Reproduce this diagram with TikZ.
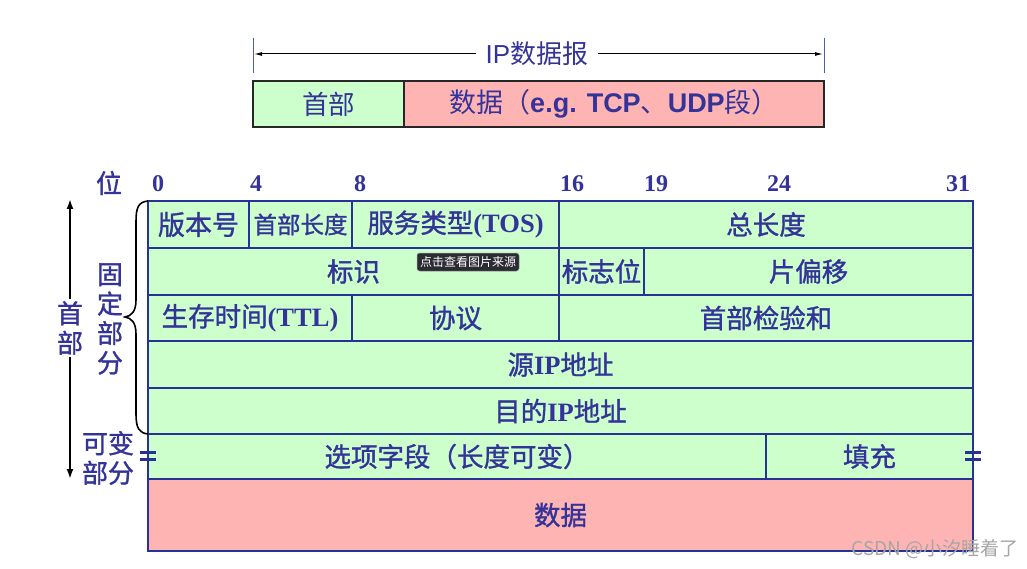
\documentclass[tikz,border=0pt]{standalone}
\usepackage{fontspec}
\setmainfont{Liberation Serif}
\newfontfamily\cjk[FakeBold=1.2]{Noto Sans CJK SC}
\newfontfamily\cjkl{Noto Sans CJK SC}
\newfontfamily\lsans{Liberation Sans}
\usetikzlibrary{arrows.meta}
\definecolor{tblue}{RGB}{51,51,153}
\definecolor{lblue}{RGB}{40,50,150}
\definecolor{barblue}{RGB}{80,96,176}
\definecolor{cgreen}{RGB}{204,255,204}
\definecolor{cred}{RGB}{255,180,180}
\definecolor{tipbg}{RGB}{43,43,51}
\tikzset{
  cell/.style={draw=lblue, line width=1.3pt, fill=cgreen, anchor=north west,
    inner sep=0pt, outer sep=0pt, text=tblue, font=\cjk\fontsize{26.5}{28}\selectfont},
  redcell/.style={cell, fill=cred, line width=1.8pt},
  topcell/.style={draw=black!85, line width=1.3pt, anchor=north west, inner sep=0pt,
    outer sep=0pt, minimum height=46pt, text=tblue, font=\cjkl\fontsize{26.5}{28}\selectfont},
  bitlbl/.style={text=tblue, font=\bfseries\fontsize{24}{24}\selectfont, inner sep=0pt},
  sidelbl/.style={text=tblue, font=\cjk\fontsize{26}{29.5}\selectfont, align=center, inner sep=2pt},
  arr/.style={line width=1.8pt, -{Latex[length=10pt,width=7pt]}},
  toparr/.style={line width=1pt, -{Latex[length=8pt,width=4pt]}},
  gapmark/.style={draw=lblue, line width=3.2pt},
}
\newcommand{\ser}[1]{{\rmfamily\bfseries #1}}
\begin{document}
\begin{tikzpicture}[x=1pt,y=-1pt]
\useasboundingbox[fill=white] (0,0) rectangle (1027,569);

% ---- top datagram ----
\node[topcell, fill=cgreen, minimum width=151pt] (hdr) at (253,81) {首部};
\node[topcell, fill=cred, minimum width=420pt, font=\cjkl\fontsize{27}{28}\selectfont] (payload) at (404,81)
  {数据（{\lsans\bfseries e.g. TCP}、{\lsans\bfseries UDP}段）};
\coordinate (lbarT) at (253,38); \coordinate (lbarB) at (253,73);
\coordinate (rbarT) at (824,38); \coordinate (rbarB) at (824,73);
\draw[barblue, line width=1pt] (lbarT) -- (lbarB);
\draw[barblue, line width=1pt] (rbarT) -- (rbarB);
\coordinate (lend) at (254,54); \coordinate (rend) at (823,54);
\node[text=tblue, font=\fontsize{26}{26}\selectfont, inner xsep=10pt] (iplbl) at (537,54)
  {{\lsans IP}{\cjkl 数据报}};
\draw[toparr] (iplbl.west) -- (lend);
\draw[toparr] (iplbl.east) -- (rend);

% ---- bit numbers ----
\node[text=tblue, font=\cjk\fontsize{26}{26}\selectfont, inner sep=0pt] (wei) at (109,183) {位};
\node[bitlbl] (b0) at (158,184) {0};
\node[bitlbl] (b4) at (256,184) {4};
\node[bitlbl] (b8) at (360,184) {8};
\node[bitlbl] (b16) at (572,184) {16};
\node[bitlbl] (b19) at (656,184) {19};
\node[bitlbl] (b24) at (779,184) {24};
\node[bitlbl] (b31) at (958,184) {31};

% ---- header table ----
\node[cell, minimum width=101pt, minimum height=47pt, font=\cjk\fontsize{27}{28}\selectfont] (ver) at (148,201) {版本号};
\node[cell, minimum width=103pt, minimum height=47pt, font=\cjk\fontsize{23.5}{26}\selectfont] (ihl) at (249,201) {首部长度};
\node[cell, minimum width=207pt, minimum height=47pt] (tos) at (352,201) {服务类型\ser{(TOS)}};
\node[cell, minimum width=414pt, minimum height=47pt] (tlen) at (559,201) {总长度};

\node[cell, minimum width=411pt, minimum height=47pt] (ident) at (148,248) {标识};
\node[cell, minimum width=85pt, minimum height=47pt] (flags) at (559,248) {标志位};
\node[cell, minimum width=329pt, minimum height=47pt] (frag) at (644,248) {片偏移};

\node[cell, minimum width=204pt, minimum height=46pt] (ttl) at (148,295) {生存时间\ser{(TTL)}};
\node[cell, minimum width=207pt, minimum height=46pt] (proto) at (352,295) {协议};
\node[cell, minimum width=414pt, minimum height=46pt] (cks) at (559,295) {首部检验和};

\node[cell, minimum width=825pt, minimum height=47pt] (src) at (148,341) {源\ser{IP}地址};
\node[cell, minimum width=825pt, minimum height=46pt] (dst) at (148,388) {目的\ser{IP}地址};

\node[cell, minimum width=618pt, minimum height=45pt] (opt) at (148,434) {选项字段（长度可变）};
\node[cell, minimum width=207pt, minimum height=45pt] (pad) at (766,434) {填充};

\node[redcell, minimum width=825pt, minimum height=72pt] (data) at (148,479) {数据};

% variable-part marks
\coordinate (lmA) at (140,452.5); \coordinate (lmB) at (156,452.5);
\coordinate (lmC) at (140,459.5); \coordinate (lmD) at (156,459.5);
\draw[gapmark] (lmA) -- (lmB); \draw[gapmark] (lmC) -- (lmD);
\coordinate (rmA) at (965,452.5); \coordinate (rmB) at (981,452.5);
\coordinate (rmC) at (965,459.5); \coordinate (rmD) at (981,459.5);
\draw[gapmark] (rmA) -- (rmB); \draw[gapmark] (rmC) -- (rmD);

% ---- left labels ----
\node[sidelbl] (shoubu) at (70,328) {首\\部};
\coordinate (uptip) at (70,199);
\coordinate (downtip) at (70,479);
\draw[arr] (shoubu.north) -- (uptip);
\draw[arr] (shoubu.south) -- (downtip);

\node[sidelbl] (guding) at (110,319) {固\\定\\部\\分};
\node[sidelbl, align=left] (kebian) at (108,458) {可变\\部分};

% brace
\coordinate (brT) at (148,201);
\coordinate (brB) at (148,434);
\coordinate (brTip) at (125,317);
\draw[black, line width=1.6pt]
  (brT) .. controls (138,202) and (136,208) .. (136,222)
  -- (136,300) .. controls (136,312) and (131,316) .. (brTip)
  .. controls (131,318) and (136,322) .. (136,334)
  -- (136,414) .. controls (136,428) and (139,433) .. (brB);

% ---- overlay artefacts ----
\node[fill=tipbg, draw=black!40, line width=0.5pt, rounded corners=2.5pt, text=white,
  font=\cjkl\fontsize{12}{12}\selectfont, minimum width=102pt, minimum height=18pt, inner sep=1pt]
  (tip) at (468,262) {点击查看图片来源};
\node[text=black!35, font=\cjkl\fontsize{19}{19}\selectfont, inner sep=0pt] (wm) at (935,549)
  {CSDN @小汐睡着了};
\end{tikzpicture}
\end{document}
